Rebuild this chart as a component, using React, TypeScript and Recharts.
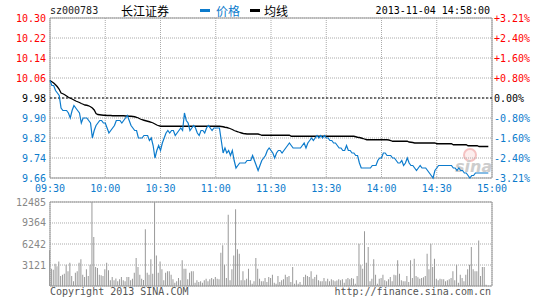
import { ComposedChart, Line, Bar, XAxis, YAxis, CartesianGrid, ReferenceLine, ReferenceArea } from 'recharts'

const PREV_CLOSE = 9.98
const TIME_TICKS = [0, 30, 60, 90, 120, 150, 180, 210, 240]
const TIME_LABELS = ['09:30', '10:00', '10:30', '11:00', '11:30', '13:30', '14:00', '14:30', '15:00']
const PRICE_TICKS = [9.66, 9.74, 9.82, 9.9, 9.98, 10.06, 10.14, 10.22, 10.3]
const VOLUME_TICKS = [3121, 6242, 9364, 12485]

// one value per minute, 09:30 .. 15:00 (last quote 14:58)
const PRICE = [
  10.05, 10.03, 10.03, 10.01, 10.0, 9.99, 9.94, 9.93, 9.93, 9.93,
  9.92, 9.9, 9.93, 9.95, 9.94, 9.93, 9.92, 9.88, 9.9, 9.9,
  9.9, 9.89, 9.88, 9.82, 9.85, 9.87, 9.88, 9.89, 9.89, 9.88,
  9.88, 9.86, 9.84, 9.85, 9.86, 9.87, 9.89, 9.89, 9.89, 9.88,
  9.89, 9.9, 9.91, 9.89, 9.87, 9.86, 9.85, 9.85, 9.82, 9.82,
  9.82, 9.83, 9.83, 9.83, 9.81, 9.82, 9.79, 9.74, 9.77, 9.79,
  9.77, 9.8, 9.82, 9.84, 9.85, 9.84, 9.85, 9.85, 9.83, 9.84,
  9.85, 9.86, 9.85, 9.92, 9.89, 9.88, 9.85, 9.86, 9.87, 9.86,
  9.84, 9.83, 9.85, 9.85, 9.84, 9.86, 9.87, 9.86, 9.85, 9.86,
  9.86, 9.86, 9.86, 9.81, 9.76, 9.78, 9.76, 9.77, 9.75, 9.77,
  9.73, 9.7, 9.71, 9.72, 9.72, 9.72, 9.72, 9.73, 9.73, 9.73,
  9.75, 9.73, 9.71, 9.69, 9.71, 9.73, 9.74, 9.75, 9.77, 9.78,
  9.77, 9.76, 9.74, 9.76, 9.77, 9.77, 9.76, 9.77, 9.78, 9.79,
  9.8, 9.79, 9.78, 9.78, 9.78, 9.78, 9.78, 9.79, 9.8, 9.78,
  9.8, 9.81, 9.82, 9.81, 9.82, 9.83, 9.82, 9.83, 9.82, 9.83,
  9.82, 9.82, 9.81, 9.81, 9.8, 9.8, 9.79, 9.78, 9.78, 9.77,
  9.77, 9.79, 9.77, 9.77, 9.76, 9.76, 9.75, 9.75, 9.72, 9.7,
  9.7, 9.7, 9.7, 9.7, 9.7, 9.71, 9.71, 9.71, 9.73, 9.74,
  9.74, 9.76, 9.76, 9.75, 9.75, 9.75, 9.74, 9.74, 9.73, 9.72,
  9.72, 9.73, 9.71, 9.72, 9.74, 9.72, 9.71, 9.71, 9.7, 9.69,
  9.7, 9.71, 9.7, 9.7, 9.7, 9.69, 9.68, 9.67, 9.66, 9.69,
  9.7, 9.71, 9.71, 9.71, 9.71, 9.71, 9.71, 9.71, 9.71, 9.7,
  9.7, 9.69, 9.7, 9.69, 9.69, 9.68, 9.68, 9.67, 9.66, 9.67,
  9.67, 9.68, 9.68, 9.68, 9.68, 9.68, 9.68, 9.68, 9.68, null,
  null,
]

const AVG = [
  10.05, 10.045, 10.04, 10.033, 10.025, 10.015, 10.0, 9.997, 9.993, 9.988,
  9.983, 9.979, 9.976, 9.972, 9.968, 9.965, 9.962, 9.958, 9.955, 9.952,
  9.951, 9.949, 9.945, 9.94, 9.932, 9.918, 9.914, 9.913, 9.912, 9.911,
  9.911, 9.91, 9.91, 9.91, 9.909, 9.909, 9.909, 9.909, 9.909, 9.909,
  9.909, 9.908, 9.908, 9.907, 9.907, 9.906, 9.905, 9.903, 9.9, 9.896,
  9.893, 9.891, 9.889, 9.887, 9.885, 9.883, 9.88, 9.876, 9.872, 9.869,
  9.867, 9.867, 9.867, 9.867, 9.867, 9.867, 9.867, 9.867, 9.867, 9.867,
  9.867, 9.867, 9.867, 9.867, 9.867, 9.867, 9.867, 9.867, 9.867, 9.867,
  9.867, 9.867, 9.867, 9.867, 9.867, 9.867, 9.867, 9.867, 9.867, 9.867,
  9.867, 9.867, 9.867, 9.866, 9.865, 9.863, 9.862, 9.86, 9.857, 9.854,
  9.85, 9.847, 9.845, 9.842, 9.84, 9.838, 9.837, 9.836, 9.836, 9.836,
  9.836, 9.836, 9.836, 9.836, 9.834, 9.831, 9.831, 9.831, 9.831, 9.831,
  9.831, 9.831, 9.831, 9.831, 9.831, 9.831, 9.831, 9.831, 9.831, 9.831,
  9.831, 9.827, 9.827, 9.827, 9.827, 9.827, 9.827, 9.827, 9.827, 9.827,
  9.827, 9.827, 9.827, 9.827, 9.827, 9.827, 9.827, 9.827, 9.827, 9.827,
  9.827, 9.827, 9.827, 9.827, 9.827, 9.827, 9.827, 9.827, 9.827, 9.827,
  9.827, 9.827, 9.827, 9.827, 9.827, 9.827, 9.825, 9.823, 9.822, 9.82,
  9.818, 9.815, 9.813, 9.813, 9.813, 9.813, 9.813, 9.813, 9.813, 9.813,
  9.813, 9.813, 9.813, 9.813, 9.812, 9.81, 9.807, 9.807, 9.807, 9.807,
  9.807, 9.807, 9.807, 9.807, 9.807, 9.804, 9.803, 9.802, 9.8, 9.8,
  9.8, 9.8, 9.8, 9.8, 9.8, 9.8, 9.8, 9.8, 9.8, 9.8,
  9.797, 9.797, 9.797, 9.797, 9.797, 9.797, 9.797, 9.797, 9.797, 9.793,
  9.793, 9.793, 9.793, 9.793, 9.793, 9.793, 9.793, 9.789, 9.789, 9.789,
  9.789, 9.789, 9.789, 9.786, 9.786, 9.786, 9.786, 9.786, 9.786, null,
  null,
]

const VOLUME = [
  5300, 2570, 2430, 3320, 2920, 3660, 1490, 1680, 1830, 3170,
  2180, 3470, 1490, 690, 1980, 2180, 3470, 3960, 1680, 1340,
  2480, 1490, 3170, 12485, 7280, 2820, 2670, 1680, 1580, 1490,
  2480, 3470, 2330, 840, 1340, 840, 1100, 690, 990, 1340,
  840, 690, 1340, 1340, 840, 1090, 1980, 4160, 2820, 1680,
  1090, 900, 8420, 1980, 1680, 3960, 1830, 12485, 4550, 1980,
  3660, 2480, 840, 1980, 2180, 2180, 1680, 990, 500, 690,
  1190, 840, 3810, 2570, 2570, 990, 1980, 2180, 2180, 500,
  840, 600, 690, 500, 840, 1090, 690, 990, 1190, 1000,
  1340, 1090, 990, 4950, 6040, 3170, 1190, 10590, 840, 2480,
  4550, 11390, 5450, 4800, 840, 2180, 840, 1090, 2570, 840,
  350, 690, 4160, 2570, 1090, 690, 690, 1190, 590, 1340,
  1200, 1680, 500, 350, 1490, 590, 840, 990, 1680, 1340,
  1490, 590, 2820, 350, 840, 350, 590, 200, 1340, 1680,
  1490, 1340, 2180, 1090, 1340, 1680, 840, 690, 690, 1190,
  690, 1090, 690, 990, 840, 690, 800, 990, 840, 990,
  500, 1000, 1190, 990, 1190, 1090, 350, 1490, 6290, 3070,
  2570, 8120, 3470, 5790, 690, 1090, 3960, 1680, 350, 1090,
  1190, 1680, 840, 690, 990, 1340, 690, 1680, 1580, 3810,
  1830, 840, 690, 690, 1490, 590, 3810, 1190, 4060, 1490,
  1300, 1090, 1190, 1290, 1490, 4800, 2480, 6290, 2820, 4060,
  1090, 840, 1090, 990, 990, 690, 840, 990, 1190, 2180,
  840, 3170, 500, 1680, 1190, 690, 1680, 2480, 3170, 5790,
  2480, 2180, 2180, 6780, 1490, 2820, 2820, 200, 0, 0,
  0,
]

const data = VOLUME.map((v, i) => ({ i, price: PRICE[i], avg: AVG[i], volume: v }))

const MONO = '"DejaVu Sans Mono", monospace'
const CJK = '"Noto Sans CJK SC", sans-serif'
const BLUE = '#0c7bcc'
const RED = '#ff0000'
const GRID = '#aaaaaa'
const BORDER = '#999999'

const priceColor = (v: number) => (v > PREV_CLOSE + 1e-6 ? RED : v < PREV_CLOSE - 1e-6 ? BLUE : '#000')

const fmtPct = (v: number) => {
  const p = ((v - PREV_CLOSE) / PREV_CLOSE) * 100
  if (Math.abs(p) < 1e-6) return '0.00%'
  return (p > 0 ? '+' : '') + p.toFixed(2) + '%'
}

const LeftPriceTick = ({ x, y, payload }: any) => (
  <text x={x - 4} y={y} textAnchor="end" dominantBaseline="central" fontFamily={MONO} fontSize={10} fill={priceColor(payload.value)}>
    {payload.value.toFixed(2)}
  </text>
)

const RightPctTick = ({ x, y, payload }: any) => (
  <text x={x + 2} y={y} textAnchor="start" dominantBaseline="central" fontFamily={MONO} fontSize={10} fill={priceColor(payload.value)}>
    {fmtPct(payload.value)}
  </text>
)

const TimeTick = ({ x, y, payload }: any) => (
  <text x={x} y={y + 10} textAnchor="middle" dominantBaseline="central" fontFamily={MONO} fontSize={10} fill={BLUE}>
    {TIME_LABELS[TIME_TICKS.indexOf(payload.value)]}
  </text>
)

const VolumeTick = ({ x, y, payload }: any) => (
  <text x={x - 4} y={y} textAnchor="end" dominantBaseline="central" fontFamily={MONO} fontSize={10} fill="#888">
    {payload.value}
  </text>
)

export default function App() {
  return (
    <div style={{ position: 'absolute', left: 0, top: 0, width: 545, height: 300, background: '#fff', overflow: 'hidden' }}>
      {/* header */}
      <div style={{ position: 'absolute', left: 50, top: 4, fontFamily: MONO, fontSize: 10, lineHeight: '14px', color: '#222' }}>sz000783</div>
      <div style={{ position: 'absolute', left: 121, top: 3, fontFamily: CJK, fontSize: 12, lineHeight: '16px', color: '#000' }}>长江证券</div>
      <div style={{ position: 'absolute', left: 200, top: 9, width: 10, height: 3, background: BLUE }} />
      <div style={{ position: 'absolute', left: 216, top: 3, fontFamily: CJK, fontSize: 12, lineHeight: '16px', color: BLUE }}>价格</div>
      <div style={{ position: 'absolute', left: 250, top: 9, width: 10, height: 3, background: '#000' }} />
      <div style={{ position: 'absolute', left: 264, top: 3, fontFamily: CJK, fontSize: 12, lineHeight: '16px', color: '#000' }}>均线</div>
      <div style={{ position: 'absolute', right: 55, top: 4, fontFamily: MONO, fontSize: 10, lineHeight: '14px', color: '#000' }}>2013-11-04 14:58:00</div>

      {/* sina watermark */}
      <div style={{ position: 'absolute', left: 463, top: 148, width: 10, height: 10, borderRadius: 7, border: '2px solid #f5c2c2', background: '#fdeeee' }} />
      <div style={{ position: 'absolute', left: 455, top: 157, fontFamily: '"DejaVu Sans", sans-serif', fontStyle: 'italic', fontWeight: 'bold', fontSize: 16, lineHeight: '20px', color: '#cdcdcd' }}>sina</div>

      {/* price chart */}
      <div style={{ position: 'absolute', left: 0, top: 0 }}>
        <ComposedChart width={545} height={200} data={data} margin={{ top: 18, right: 0, bottom: 2, left: 0 }}>
          <CartesianGrid yAxisId="left" stroke={GRID} strokeDasharray="1 1" />
          <XAxis
            type="number"
            dataKey="i"
            domain={[0, 240]}
            ticks={TIME_TICKS}
            interval={0}
            height={20}
            axisLine={false}
            tickLine={false}
            tickSize={0}
            tickMargin={0}
            tick={<TimeTick />}
          />
          <YAxis
            yAxisId="left"
            orientation="left"
            width={50}
            domain={[9.66, 10.3]}
            ticks={PRICE_TICKS}
            interval={0}
            axisLine={false}
            tickLine={false}
            tickSize={0}
            tickMargin={0}
            tick={<LeftPriceTick />}
          />
          <YAxis
            yAxisId="right"
            orientation="right"
            width={53}
            domain={[9.66, 10.3]}
            ticks={PRICE_TICKS}
            interval={0}
            axisLine={false}
            tickLine={false}
            tickSize={0}
            tickMargin={0}
            tick={<RightPctTick />}
          />
          <ReferenceLine yAxisId="left" y={PREV_CLOSE} stroke="#000" strokeDasharray="2 2" />
          <ReferenceArea yAxisId="left" x1={0} x2={240} y1={9.66} y2={10.3} fill="none" stroke={BORDER} />
          <Line yAxisId="right" type="linear" dataKey="avg" stroke="#000" strokeWidth={1.3} dot={false} isAnimationActive={false} />
          <Line yAxisId="left" type="linear" dataKey="price" stroke={BLUE} strokeWidth={1.2} dot={false} isAnimationActive={false} />
        </ComposedChart>
      </div>

      {/* volume chart */}
      <div style={{ position: 'absolute', left: 0, top: 190 }}>
        <ComposedChart width={545} height={110} data={data} margin={{ top: 12, right: 53, bottom: 14, left: 0 }}>
          <CartesianGrid stroke={GRID} strokeDasharray="1 1" />
          <XAxis type="number" dataKey="i" domain={[0, 240]} ticks={TIME_TICKS} interval={0} height={0} axisLine={false} tickLine={false} tick={false} />
          <YAxis
            width={50}
            domain={[0, 12485]}
            ticks={VOLUME_TICKS}
            interval={0}
            axisLine={false}
            tickLine={false}
            tickSize={0}
            tickMargin={0}
            tick={<VolumeTick />}
          />
          <Bar dataKey="volume" fill="#999" barSize={1} isAnimationActive={false} />
          <ReferenceArea x1={0} x2={240} y1={0} y2={12485} fill="none" stroke={BORDER} />
        </ComposedChart>
      </div>

      {/* footer */}
      <div style={{ position: 'absolute', left: 50, top: 286, fontFamily: MONO, fontSize: 10, lineHeight: '12px', color: '#555' }}>Copyright 2013 SINA.COM</div>
      <div style={{ position: 'absolute', right: 54, top: 286, fontFamily: MONO, fontSize: 10, lineHeight: '12px', color: '#555' }}>http://finance.sina.com.cn</div>
    </div>
  )
}
